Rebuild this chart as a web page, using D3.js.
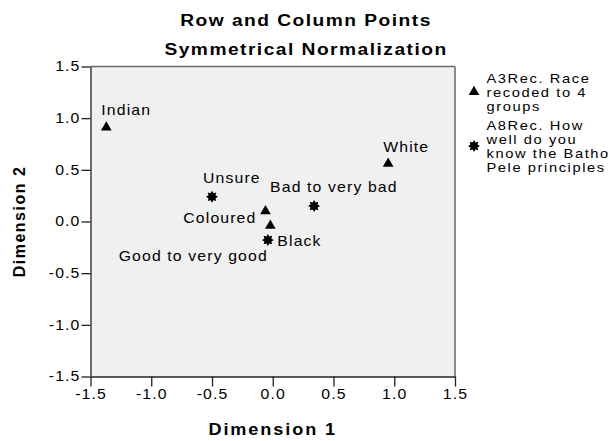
<!DOCTYPE html>
<html lang="en">
<head>
<meta charset="UTF-8">
<title>Row and Column Points</title>
<style>
    body { margin: 0; background: #fff; }
    svg text { font-family: "Liberation Sans", Arial, sans-serif; fill: #000; }
</style>
</head>
<body>
<svg id="chart" width="612" height="441"></svg>
<script src="https://cdn.jsdelivr.net/npm/d3@7"></script>
<script>

// row points (A3Rec. Race recoded to 4 groups)
var rowLabels = ["Indian", "White", "Coloured", "Black"]
var rowDim1 = [-1.37, 0.95, -0.06, -0.02]
var rowDim2 = [0.91, 0.56, 0.10, -0.04]

// column points (A8Rec. How well do you know the Batho Pele principles)
var colLabels = ["Unsure", "Bad to very bad", "Good to very good"]
var colDim1 = [-0.50, 0.34, -0.04]
var colDim2 = [0.24, 0.15, -0.18]

var tickValues = [-1.5, -1.0, -0.5, 0.0, 0.5, 1.0, 1.5]
var titleLines = ["Row and Column Points", "Symmetrical Normalization"]
var legendLines = [
    ["A3Rec. Race", "recoded to 4", "groups"],
    ["A8Rec. How", "well do you", "know the Batho", "Pele principles"]
]

// the picture is a little wider than tall, text is stretched too
var SX = 1.13

var svg = d3.select("#chart")
// plot area edges (don't use "top", it's taken by window.top)
var pLeft = 90.5, pRight = 455, pTop = 66.5, pBottom = 376.5

var x = d3.scaleLinear().domain([-1.5, 1.5]).range([pLeft, pRight])
var y = d3.scaleLinear().domain([-1.5, 1.5]).range([pBottom, pTop])

// helper: stretched text at a point
function stext(parent, px, py, str, anchor, size, weight, ls) {
    return parent.append("g")
        .attr("transform", "translate(" + px + "," + py + ") scale(" + SX + ",1)")
        .append("text")
        .attr("text-anchor", anchor)
        .style("font-size", size + "px")
        .style("font-weight", weight)
        .style("letter-spacing", ls + "px")
        .text(str)
}

// plot background
svg.append("rect")
    .attr("x", pLeft).attr("y", pTop)
    .attr("width", pRight - pLeft).attr("height", pBottom - pTop)
    .attr("fill", "#f0f0f0")

// frame on top and right
svg.append("line")
    .attr("x1", pLeft).attr("x2", pRight).attr("y1", pTop).attr("y2", pTop)
    .attr("stroke", "#6a6a6a").attr("stroke-width", 1.5)
svg.append("line")
    .attr("x1", pRight).attr("x2", pRight).attr("y1", pTop).attr("y2", pBottom)
    .attr("stroke", "#8c8c8c").attr("stroke-width", 2)

// axes, plain hyphen for minus like SPSS
var fmt = function (d) { return d.toFixed(1) }
var xAxis = svg.append("g")
    .attr("transform", "translate(0," + pBottom + ")")
    .call(d3.axisBottom(x).tickValues(tickValues).tickFormat(fmt).tickSize(10).tickPadding(3).tickSizeOuter(0))
var yAxis = svg.append("g")
    .attr("transform", "translate(" + pLeft + ",0)")
    .call(d3.axisLeft(y).tickValues(tickValues).tickFormat(fmt).tickSize(9).tickPadding(1).tickSizeOuter(0))

svg.selectAll(".domain, .tick line").attr("stroke", "#222").attr("stroke-width", 1.3)
svg.selectAll(".tick text")
    .style("font-size", "14px")
    .style("letter-spacing", "1px")
    .attr("fill", "#111")
    .attr("font-family", null)
xAxis.selectAll(".tick text").attr("transform", "scale(" + SX + ",1)")
yAxis.selectAll(".tick text")
    .attr("x", -10 / SX)
    .attr("transform", "scale(" + SX + ",1)")

// titles
titleLines.forEach(function (t, i) {
    stext(svg, 306, 26 + i * 29, t, "middle", 17, "bold", 1.3)
})
stext(svg, (pLeft + pRight) / 2, 435, "Dimension 1", "middle", 16, "bold", 1.7)
svg.append("text")
    .attr("transform", "translate(25," + (pTop + pBottom) / 2 + ") rotate(-90)")
    .attr("text-anchor", "middle")
    .style("font-size", "16px")
    .style("font-weight", "bold")
    .style("letter-spacing", "1.5px")
    .text("Dimension 2")

// markers
var tri = d3.symbol().type(d3.symbolTriangle).size(50)
function starPath(r1, r2, n) {
    var p = []
    for (var i = 0; i < n * 2; i++) {
        var a = Math.PI * i / n - Math.PI / 2
        var r = i % 2 ? r2 : r1
        p.push([Math.cos(a) * r, Math.sin(a) * r])
    }
    return "M" + p.join("L") + "Z"
}
var star = starPath(6, 3.8, 8)

// label placement next to each point (pixels)
var rowLab = [
    { dx: -5, dy: -12.5, a: "start" },
    { dx: -5, dy: -11.5, a: "start" },
    { dx: -9, dy: 12, a: "end" },
    { dx: 7, dy: 20, a: "start" }
]
var colLab = [
    { dx: -9, dy: -13.5, a: "start" },
    { dx: -44, dy: -14.5, a: "start" },
    { dx: 0, dy: 20.5, a: "end" }
]

var plot = svg.append("g")

rowLabels.forEach(function (lab, i) {
    var px = x(rowDim1[i]), py = y(rowDim2[i])
    plot.append("path")
        .attr("d", tri)
        .attr("transform", "translate(" + px + "," + py + ")")
        .attr("fill", "#000")
    stext(plot, px + rowLab[i].dx, py + rowLab[i].dy, lab, rowLab[i].a, 14, "normal", 1)
})

colLabels.forEach(function (lab, i) {
    var px = x(colDim1[i]), py = y(colDim2[i])
    plot.append("path")
        .attr("d", star)
        .attr("transform", "translate(" + px + "," + py + ")")
        .attr("fill", "#000")
    stext(plot, px + colLab[i].dx, py + colLab[i].dy, lab, colLab[i].a, 14, "normal", 1)
})

// legend
var legend = svg.append("g")
var ly = 82.5
legendLines.forEach(function (lines, k) {
    var mid = ly + (lines.length - 1) * 14 / 2 - 4.5
    legend.append("path")
        .attr("d", k == 0 ? tri : star)
        .attr("transform", "translate(474," + mid + ")")
        .attr("fill", "#000")
    lines.forEach(function (s, j) {
        stext(legend, 486.5, ly + j * 14, s, "start", 13, "normal", 1.4)
    })
    ly += (lines.length - 1) * 14 + 19
})
</script>
</body>
</html>
